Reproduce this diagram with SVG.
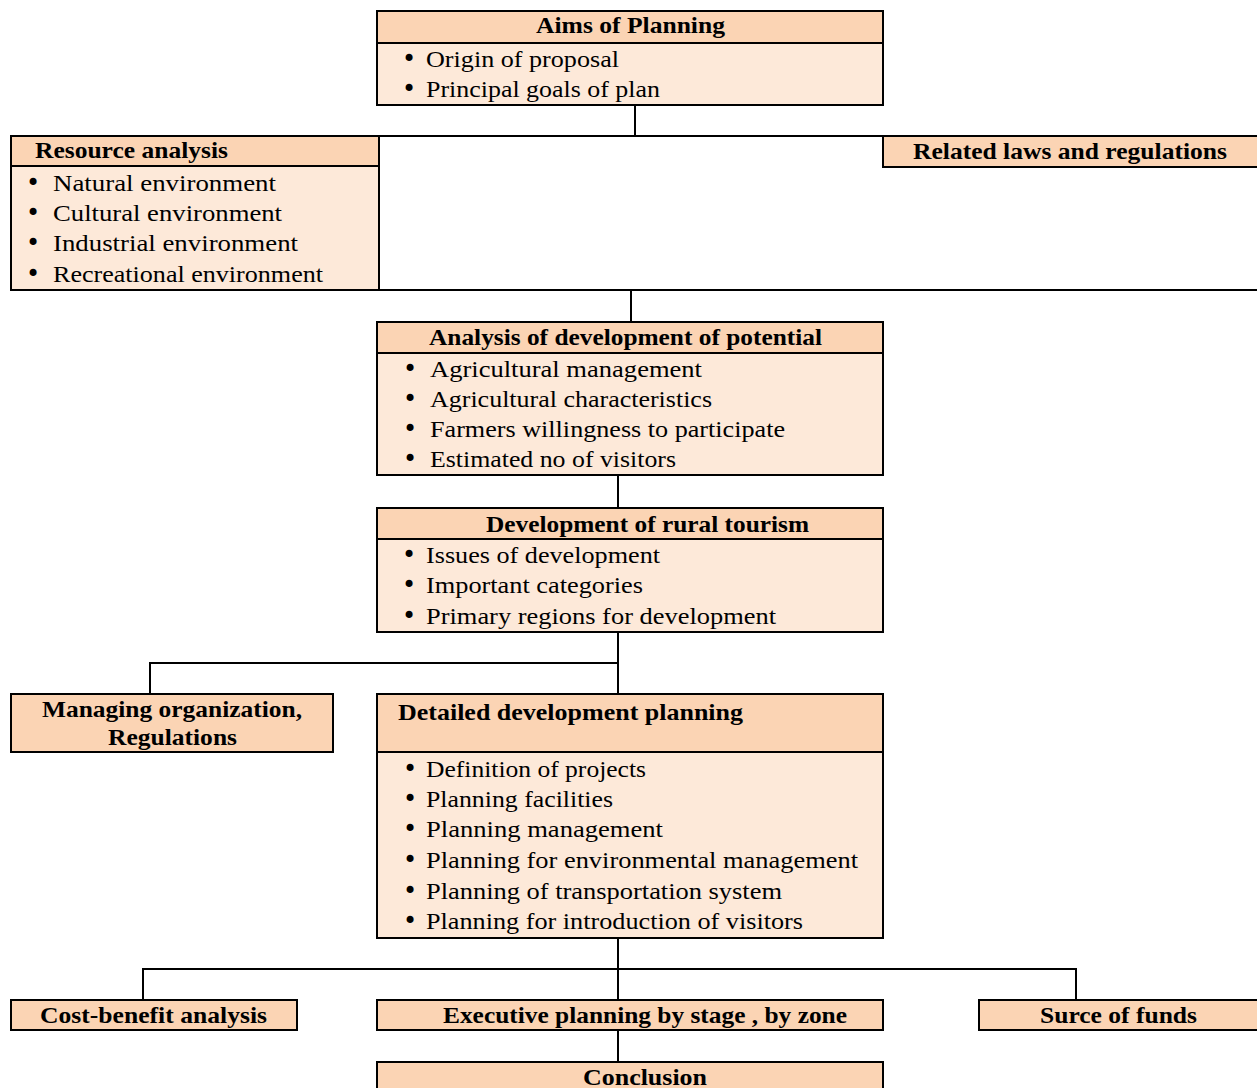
<svg xmlns="http://www.w3.org/2000/svg" width="1257" height="1088" viewBox="0 0 1257 1088">
<style>
.hd{fill:#FBD4B4}
.bd{fill:#FDE9D9}
.bx{fill:none;stroke:#000;stroke-width:2}
.cn{stroke:#000;stroke-width:2;fill:none}
text{font-family:"Liberation Serif","Times New Roman",serif;font-size:23px;fill:#000}
.b{font-weight:bold}
text.bl{text-anchor:middle;font-family:"DejaVu Sans",sans-serif;font-size:24px}
</style>
<rect width="1257" height="1088" fill="#fff"/>

<g id="connectors">
<line class="cn" x1="635" y1="105" x2="635" y2="136"/>
<line class="cn" x1="11" y1="136" x2="1257" y2="136"/>
<line class="cn" x1="11" y1="290" x2="1257" y2="290"/>
<line class="cn" x1="631" y1="290" x2="631" y2="322"/>
<line class="cn" x1="618" y1="475" x2="618" y2="508"/>
<line class="cn" x1="618" y1="632" x2="618" y2="694"/>
<polyline class="cn" points="618,663 150,663 150,694"/>
<line class="cn" x1="618" y1="938" x2="618" y2="1000"/>
<polyline class="cn" points="143,1000 143,969 1076,969 1076,1000"/>
<line class="cn" x1="618" y1="1030" x2="618" y2="1062"/>
</g>

<g id="aims">
<rect class="hd" x="377" y="11" width="506" height="32"/>
<rect class="bd" x="377" y="43" width="506" height="62"/>
<rect class="bx" x="377" y="11" width="506" height="94"/>
<line class="cn" x1="377" y1="43" x2="883" y2="43"/>
<text class="b" x="536" y="33" textLength="189" lengthAdjust="spacingAndGlyphs">Aims of Planning</text>
<text class="bl" x="409" y="67">•</text>
<text x="426" y="67" textLength="193" lengthAdjust="spacingAndGlyphs">Origin of proposal</text>
<text class="bl" x="409" y="97">•</text>
<text x="426" y="97" textLength="234" lengthAdjust="spacingAndGlyphs">Principal goals of plan</text>
</g>

<g id="resource">
<rect class="hd" x="11" y="136" width="368" height="30"/>
<rect class="bd" x="11" y="166" width="368" height="124"/>
<rect class="bx" x="11" y="136" width="368" height="154"/>
<line class="cn" x1="11" y1="166" x2="379" y2="166"/>
<text class="b" x="35" y="158" textLength="193" lengthAdjust="spacingAndGlyphs">Resource analysis</text>
<text class="bl" x="33" y="191">•</text>
<text x="53" y="191" textLength="223" lengthAdjust="spacingAndGlyphs">Natural environment</text>
<text class="bl" x="33" y="221">•</text>
<text x="53" y="221" textLength="229" lengthAdjust="spacingAndGlyphs">Cultural environment</text>
<text class="bl" x="33" y="251">•</text>
<text x="53" y="251" textLength="245" lengthAdjust="spacingAndGlyphs">Industrial environment</text>
<text class="bl" x="33" y="282">•</text>
<text x="53" y="282" textLength="270" lengthAdjust="spacingAndGlyphs">Recreational environment</text>
</g>

<g id="laws">
<rect class="hd" x="883" y="136" width="380" height="31"/>
<rect class="bx" x="883" y="136" width="380" height="31"/>
<text class="b" x="913" y="159" textLength="314" lengthAdjust="spacingAndGlyphs">Related laws and regulations</text>
</g>

<g id="potential">
<rect class="hd" x="377" y="322" width="506" height="31"/>
<rect class="bd" x="377" y="353" width="506" height="122"/>
<rect class="bx" x="377" y="322" width="506" height="153"/>
<line class="cn" x1="377" y1="353" x2="883" y2="353"/>
<text class="b" x="429" y="345" textLength="393" lengthAdjust="spacingAndGlyphs">Analysis of development of potential</text>
<text class="bl" x="410" y="377">•</text>
<text x="430" y="377" textLength="272" lengthAdjust="spacingAndGlyphs">Agricultural management</text>
<text class="bl" x="410" y="407">•</text>
<text x="430" y="407" textLength="282" lengthAdjust="spacingAndGlyphs">Agricultural characteristics</text>
<text class="bl" x="410" y="437">•</text>
<text x="430" y="437" textLength="355" lengthAdjust="spacingAndGlyphs">Farmers willingness to participate</text>
<text class="bl" x="410" y="467">•</text>
<text x="430" y="467" textLength="246" lengthAdjust="spacingAndGlyphs">Estimated no of visitors</text>
</g>

<g id="rural">
<rect class="hd" x="377" y="508" width="506" height="31"/>
<rect class="bd" x="377" y="539" width="506" height="93"/>
<rect class="bx" x="377" y="508" width="506" height="124"/>
<line class="cn" x1="377" y1="539" x2="883" y2="539"/>
<text class="b" x="486" y="532" textLength="323" lengthAdjust="spacingAndGlyphs">Development of rural tourism</text>
<text class="bl" x="409" y="563">•</text>
<text x="426" y="563" textLength="234" lengthAdjust="spacingAndGlyphs">Issues of development</text>
<text class="bl" x="409" y="593">•</text>
<text x="426" y="593" textLength="217" lengthAdjust="spacingAndGlyphs">Important categories</text>
<text class="bl" x="409" y="624">•</text>
<text x="426" y="624" textLength="350" lengthAdjust="spacingAndGlyphs">Primary regions for development</text>
</g>

<g id="managing">
<rect class="hd" x="11" y="694" width="322" height="58"/>
<rect class="bx" x="11" y="694" width="322" height="58"/>
<text class="b" x="42" y="717" textLength="260" lengthAdjust="spacingAndGlyphs">Managing organization,</text>
<text class="b" x="108" y="745" textLength="129" lengthAdjust="spacingAndGlyphs">Regulations</text>
</g>

<g id="detailed">
<rect class="hd" x="377" y="694" width="506" height="58"/>
<rect class="bd" x="377" y="752" width="506" height="186"/>
<rect class="bx" x="377" y="694" width="506" height="244"/>
<line class="cn" x1="377" y1="752" x2="883" y2="752"/>
<text class="b" x="398" y="720" textLength="345" lengthAdjust="spacingAndGlyphs">Detailed development planning</text>
<text class="bl" x="410" y="777">•</text>
<text x="426" y="777" textLength="220" lengthAdjust="spacingAndGlyphs">Definition of projects</text>
<text class="bl" x="410" y="807">•</text>
<text x="426" y="807" textLength="187" lengthAdjust="spacingAndGlyphs">Planning facilities</text>
<text class="bl" x="410" y="837">•</text>
<text x="426" y="837" textLength="237" lengthAdjust="spacingAndGlyphs">Planning management</text>
<text class="bl" x="410" y="868">•</text>
<text x="426" y="868" textLength="432" lengthAdjust="spacingAndGlyphs">Planning for environmental management</text>
<text class="bl" x="410" y="899">•</text>
<text x="426" y="899" textLength="356" lengthAdjust="spacingAndGlyphs">Planning of transportation system</text>
<text class="bl" x="410" y="929">•</text>
<text x="426" y="929" textLength="377" lengthAdjust="spacingAndGlyphs">Planning for introduction of visitors</text>
</g>

<g id="cost">
<rect class="hd" x="11" y="1000" width="286" height="30"/>
<rect class="bx" x="11" y="1000" width="286" height="30"/>
<text class="b" x="40" y="1023" textLength="227" lengthAdjust="spacingAndGlyphs">Cost-benefit analysis</text>
</g>

<g id="executive">
<rect class="hd" x="377" y="1000" width="506" height="30"/>
<rect class="bx" x="377" y="1000" width="506" height="30"/>
<text class="b" x="443" y="1023" textLength="404" lengthAdjust="spacingAndGlyphs">Executive planning by stage , by zone</text>
</g>

<g id="funds">
<rect class="hd" x="979" y="1000" width="285" height="30"/>
<rect class="bx" x="979" y="1000" width="285" height="30"/>
<text class="b" x="1040" y="1023" textLength="157" lengthAdjust="spacingAndGlyphs">Surce of funds</text>
</g>

<g id="conclusion">
<rect class="hd" x="377" y="1062" width="506" height="34"/>
<rect class="bx" x="377" y="1062" width="506" height="34"/>
<text class="b" x="583" y="1085" textLength="124" lengthAdjust="spacingAndGlyphs">Conclusion</text>
</g>
</svg>
